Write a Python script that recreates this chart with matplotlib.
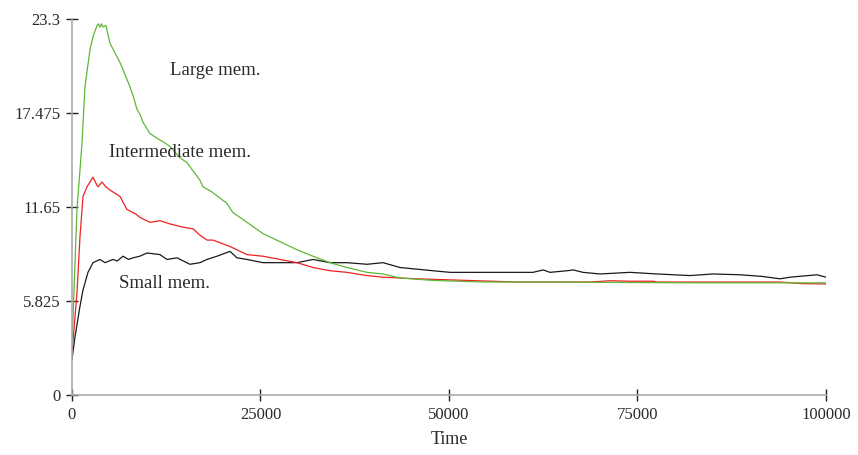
import numpy as np
import matplotlib
matplotlib.use("Agg")
import matplotlib.pyplot as plt

plt.rcParams['font.family'] = ['Liberation Serif', 'DejaVu Serif']

# series (time, value)
t_large = [0, 660, 1330, 1720, 2390, 2790, 3320, 3500, 3710, 3900, 4110, 4500,
           5040, 5700, 6370, 7000, 7690, 8200, 8620, 9020, 9420, 10350, 11000,
           11670, 12400, 13000, 14320, 15250, 16200, 16980, 17370, 18500, 19630,
           20500, 21350, 23210, 25330, 27590, 29840, 31960, 34220, 36470, 39130,
           41250, 43500, 47880, 54510, 63400, 70030, 83000, 100000]
large = [3.0, 11.5, 15.6, 19.1, 21.4, 22.2, 22.9, 23.0, 22.8, 23.0, 22.8, 22.9,
         21.8, 21.2, 20.6, 19.9, 19.1, 18.4, 17.7, 17.4, 16.9, 16.2, 16.0,
         15.8, 15.6, 15.4, 14.7, 14.4, 13.8, 13.3, 12.9, 12.6, 12.2,
         11.9, 11.3, 10.7, 10.0, 9.5, 9.0, 8.6, 8.2, 7.9, 7.6,
         7.5, 7.25, 7.1, 7.0, 7.0, 6.98, 6.95, 6.95]

t_inter = [0, 660, 1060, 1460, 1990, 2790, 3200, 3450, 3980, 4500, 5040, 6370,
           7290, 8500, 9020, 10350, 11670, 13000, 14720, 16050, 16980, 17900,
           18700, 20960, 23210, 25330, 27590, 29840, 31960, 34220, 36470, 39130,
           41250, 45760, 52390, 59020, 68700, 71350, 74000, 77060, 77590, 93900,
           96950, 100000]
inter = [2.6, 6.3, 9.8, 12.3, 12.9, 13.5, 13.1, 12.9, 13.2, 12.9, 12.7, 12.3,
         11.5, 11.2, 11.0, 10.7, 10.8, 10.6, 10.4, 10.3, 9.9, 9.6,
         9.6, 9.2, 8.7, 8.6, 8.4, 8.2, 7.9, 7.7, 7.6, 7.4,
         7.3, 7.2, 7.1, 7.0, 7.0, 7.08, 7.05, 7.05, 7.0, 7.0,
         6.9, 6.88]

t_small = [0, 400, 1060, 1460, 2120, 2790, 3710, 4380, 5440, 6000, 6760, 7500,
           8090, 9000, 9950, 11670, 12600, 13930, 15650, 16980, 17900, 19230,
           20960, 21880, 23210, 25330, 27590, 29840, 31960, 34220, 36470, 39130,
           41250, 43500, 47880, 50130, 54510, 59020, 61140, 62500, 63400, 65650,
           66500, 67770, 70030, 74000, 77590, 81970, 85000, 88600, 91500, 93900,
           95230, 98810, 100000]
small = [2.2, 3.6, 5.5, 6.5, 7.6, 8.2, 8.4, 8.2, 8.4, 8.3, 8.6, 8.4,
         8.5, 8.6, 8.8, 8.7, 8.4, 8.5, 8.1, 8.2, 8.4, 8.6,
         8.9, 8.5, 8.4, 8.2, 8.2, 8.2, 8.4, 8.2, 8.2, 8.1,
         8.2, 7.9, 7.7, 7.6, 7.6, 7.6, 7.6, 7.75, 7.6, 7.7,
         7.75, 7.6, 7.5, 7.6, 7.5, 7.4, 7.5, 7.45, 7.35, 7.2,
         7.3, 7.45, 7.3]

xticks = [0, 25000, 50000, 75000, 100000]
yticks = [0, 5.825, 11.65, 17.475, 23.3]
ytick_labels = ['0', '5.825', '11.65', '17.475', '23.3']

fig = plt.figure(figsize=(8.58, 4.55), dpi=100)
ax = fig.add_axes([0.0839, 0.1319, 0.8788, 0.8263])

ax.plot(t_small, small, color='#1a1a1a', lw=0.9)
ax.plot(t_inter, inter, color='#f02020', lw=0.9)
ax.plot(t_large, large, color='#5db836', lw=0.9)

ax.set_xlim(0, 100000)
ax.set_ylim(0, 23.3)
ax.set_xticks(xticks)
ax.set_xticklabels([str(v) for v in xticks])
ax.set_yticks(yticks)
ax.set_yticklabels(ytick_labels)

for s in ['top', 'right']:
    ax.spines[s].set_visible(False)
for s in ['left', 'bottom']:
    ax.spines[s].set_color('#aaaaaa')
    ax.spines[s].set_linewidth(1.2)
ax.tick_params(direction='inout', length=9, width=1, color='#222222',
               labelsize=12, labelcolor='#2a2a2a', pad=4)

ax.set_xlabel('Time', fontsize=13, color='#2a2a2a', labelpad=6)

ax.text(13000, 20.1, 'Large mem.', fontsize=13.5, color='#2a2a2a', va='center')
ax.text(4900, 15.0, 'Intermediate mem.', fontsize=13.5, color='#2a2a2a', va='center')
ax.text(6230, 6.9, 'Small mem.', fontsize=13.5, color='#2a2a2a', va='center')

fig.savefig('out.png', dpi=100)
